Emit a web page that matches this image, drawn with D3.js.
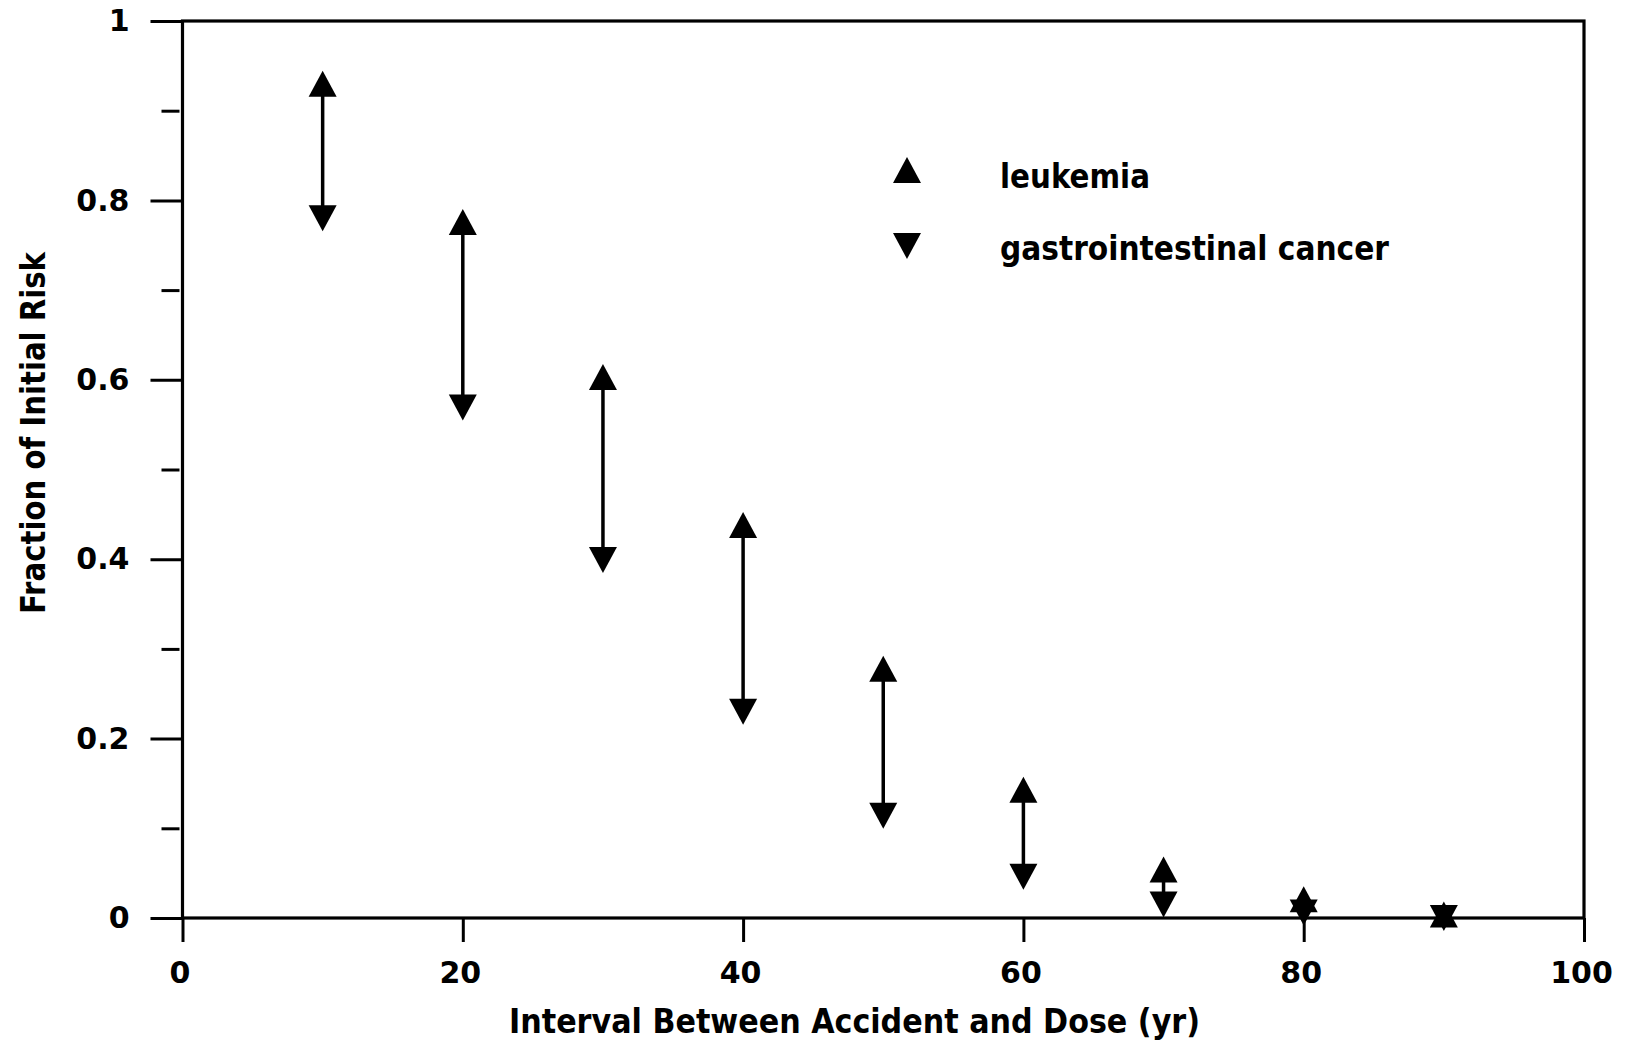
<!DOCTYPE html>
<html>
<head>
<meta charset="utf-8">
<script src="https://cdn.jsdelivr.net/npm/d3@7/dist/d3.min.js"></script>
<style>
  html, body { margin: 0; padding: 0; background: #fff; }
  svg { display: block; }
  text { font-family: "DejaVu Sans", sans-serif; font-weight: bold; fill: #000; }
</style>
</head>
<body>
<svg id="chart" width="1625" height="1043"></svg>
<script>
// Interval between accident and dose (years)
const years = [10, 20, 30, 40, 50, 60, 70, 80, 90];
// Fraction of initial risk remaining
const leukemia = [0.930, 0.776, 0.603, 0.438, 0.278, 0.143, 0.054, 0.021, 0.004];
const giCancer = [0.780, 0.569, 0.399, 0.230, 0.114, 0.046, 0.015, 0.006, 0.000];

const xTicks = [0, 20, 40, 60, 80, 100];
const yTicks = [0, 0.2, 0.4, 0.6, 0.8, 1];
const yMinorTicks = [0.1, 0.3, 0.5, 0.7, 0.9];

const seriesNames = ["leukemia", "gastrointestinal cancer"];

const svg = d3.select("#chart");
const plot = { left: 182.5, right: 1584, top: 21, bottom: 918 };

const x = d3.scaleLinear().domain([0, 100]).range([plot.left, plot.right]);
const y = d3.scaleLinear().domain([0, 1]).range([plot.bottom, plot.top]);

// Plot frame
svg.append("rect")
  .attr("x", plot.left).attr("y", plot.top)
  .attr("width", plot.right - plot.left).attr("height", plot.bottom - plot.top)
  .attr("fill", "none").attr("stroke", "#000").attr("stroke-width", 3.2);

// Y axis: major ticks with labels
const yAxis = d3.axisLeft(y).tickValues(yTicks).tickSize(32).tickPadding(21)
  .tickFormat(d => String(d));
const gy = svg.append("g").attr("transform", `translate(${plot.left},0)`).call(yAxis);
gy.select(".domain").remove();
gy.selectAll(".tick line").attr("stroke", "#000").attr("stroke-width", 3);
gy.selectAll(".tick text").attr("font-size", 30).attr("font-family", "DejaVu Sans").attr("font-weight", "bold");

// Y axis: minor ticks (detached slightly from the frame)
const yMinor = d3.axisLeft(y).tickValues(yMinorTicks).tickSize(18).tickFormat("");
const gym = svg.append("g").attr("transform", `translate(${plot.left - 3},0)`).call(yMinor);
gym.select(".domain").remove();
gym.selectAll(".tick line").attr("stroke", "#000").attr("stroke-width", 3);

// X axis
const xAxis = d3.axisBottom(x).tickValues(xTicks).tickSize(24).tickPadding(20)
  .tickFormat(d => String(d));
const gx = svg.append("g").attr("transform", `translate(0,${plot.bottom})`).call(xAxis);
gx.select(".domain").remove();
gx.selectAll(".tick line").attr("stroke", "#000").attr("stroke-width", 3);
gx.selectAll(".tick text").attr("font-size", 30).attr("dx", -3)
  .attr("font-family", "DejaVu Sans").attr("font-weight", "bold");

// Axis titles
svg.append("text")
  .attr("x", 509).attr("y", 1033)
  .attr("font-size", 33)
  .attr("textLength", 691).attr("lengthAdjust", "spacingAndGlyphs")
  .text("Interval Between Accident and Dose (yr)");

svg.append("text")
  .attr("transform", "translate(45,614) rotate(-90)")
  .attr("font-size", 33)
  .attr("textLength", 362).attr("lengthAdjust", "spacingAndGlyphs")
  .text("Fraction of Initial Risk");

// Triangle markers
const half = 14, hh = 13;
const upTri = `M0,${-hh}L${half},${hh}L${-half},${hh}Z`;
const downTri = `M0,${hh}L${half},${-hh}L${-half},${-hh}Z`;

const pairs = years.map((yr, i) => ({ yr, hi: leukemia[i], lo: giCancer[i] }));

const marks = svg.append("g");
marks.selectAll("line.shaft").data(pairs).join("line")
  .attr("class", "shaft")
  .attr("x1", d => x(d.yr)).attr("x2", d => x(d.yr))
  .attr("y1", d => y(d.hi)).attr("y2", d => y(d.lo))
  .attr("stroke", "#000").attr("stroke-width", 3.5);

marks.selectAll("path.up").data(pairs).join("path")
  .attr("class", "up")
  .attr("d", upTri)
  .attr("transform", d => `translate(${x(d.yr)},${y(d.hi)})`)
  .attr("fill", "#000");

marks.selectAll("path.down").data(pairs).join("path")
  .attr("class", "down")
  .attr("d", downTri)
  .attr("transform", d => `translate(${x(d.yr)},${y(d.lo)})`)
  .attr("fill", "#000");

// Legend
const legend = svg.append("g");
const legendRows = [
  { name: seriesNames[0], shape: upTri, cy: 170, ty: 188, w: 150 },
  { name: seriesNames[1], shape: downTri, cy: 246, ty: 260, w: 389 }
];
legendRows.forEach(r => {
  legend.append("path").attr("d", r.shape)
    .attr("transform", `translate(907,${r.cy})`).attr("fill", "#000");
  legend.append("text")
    .attr("x", 1000).attr("y", r.ty)
    .attr("font-size", 33)
    .attr("textLength", r.w).attr("lengthAdjust", "spacingAndGlyphs")
    .text(r.name);
});
</script>
</body>
</html>
